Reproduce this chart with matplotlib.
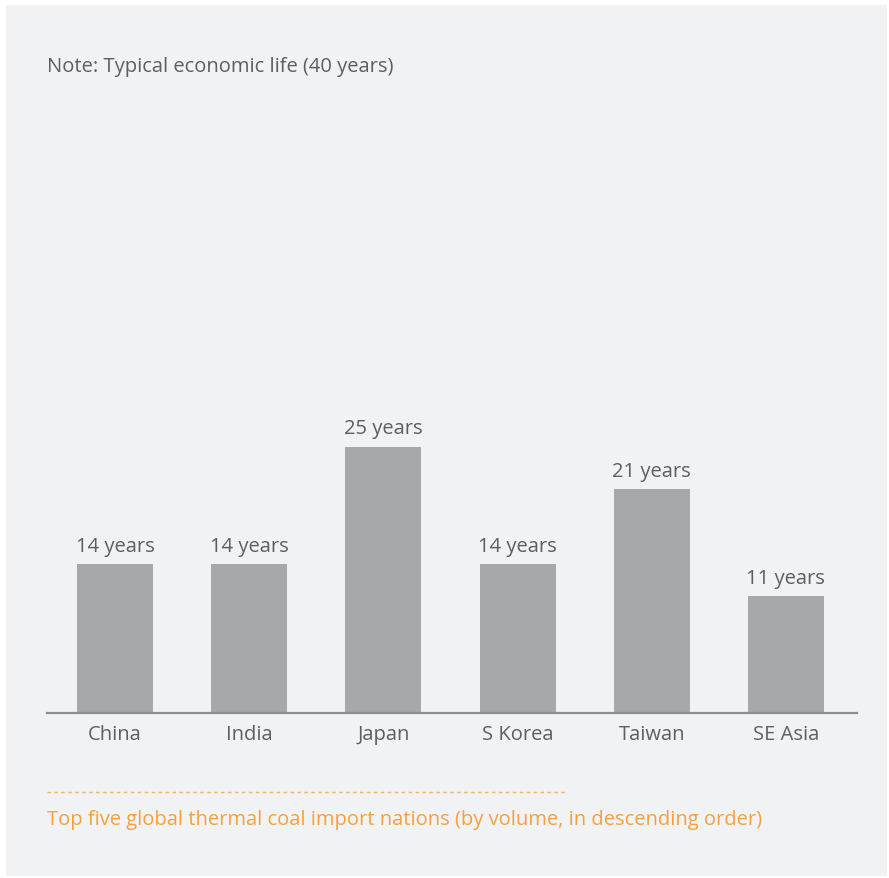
import matplotlib.pyplot as plt
from matplotlib.patches import Rectangle

countries = ["China", "India", "Japan", "S Korea", "Taiwan", "SE Asia"]
years = [14, 14, 25, 14, 21, 11]
note = "Note: Typical economic life (40 years)"
footer = "Top five global thermal coal import nations (by volume, in descending order)"

panel_bg = "#f1f2f4"
bar_grey = "#a7a8ab"
text_grey = "#5d5e60"
orange = "#f7a03c"

plt.rcParams['font.family'] = ['Open Sans', 'DejaVu Sans']
fs = 14.5

W, H = 889, 879
fig = plt.figure(figsize=(W / 100, H / 100), dpi=100)
fig.patch.set_facecolor("white")
fig.add_artist(Rectangle((6 / W, 2 / H), 881 / W, 871 / H, transform=fig.transFigure,
                         facecolor=panel_bg, edgecolor="none", zorder=-5))

# axes: baseline at y=714px, 40 years ~ 426px tall
ax = fig.add_axes([47 / W, (H - 714) / H, 810 / W, 426 / H])
ax.set_zorder(2)
ax.set_facecolor("none")
x = list(range(len(countries)))
ax.bar(x, years, width=0.566, color=bar_grey, zorder=2)
ax.set_xlim(-0.507, 5.53)
ax.set_ylim(0, 40)

for xi, v in zip(x, years):
    ax.annotate(f"{v} years", (xi, v), xytext=(0, 6), textcoords="offset points",
                ha="center", va="bottom", fontsize=fs, color=text_grey)

for s in ["top", "right", "left"]:
    ax.spines[s].set_visible(False)
ax.spines["bottom"].set_color("#8e8f92")
ax.spines["bottom"].set_linewidth(1.6)
ax.set_yticks([])
ax.set_xticks(x)
ax.set_xticklabels(countries, fontsize=fs, color=text_grey)
ax.tick_params(axis="x", length=0, pad=8)

fig.text(47 / W, 1 - 67 / H, note, fontsize=fs, color=text_grey, va="center", ha="left")
fig.add_artist(plt.Line2D([47 / W, 565 / W], [1 - 793 / H] * 2, transform=fig.transFigure,
                          color=orange, lw=1, linestyle=(0, (2.5, 2.5)), alpha=0.8))
fig.text(47 / W, 1 - 820 / H, footer, fontsize=fs, color=orange, va="center", ha="left")

fig.savefig("out.png", dpi=100, facecolor=fig.get_facecolor())
